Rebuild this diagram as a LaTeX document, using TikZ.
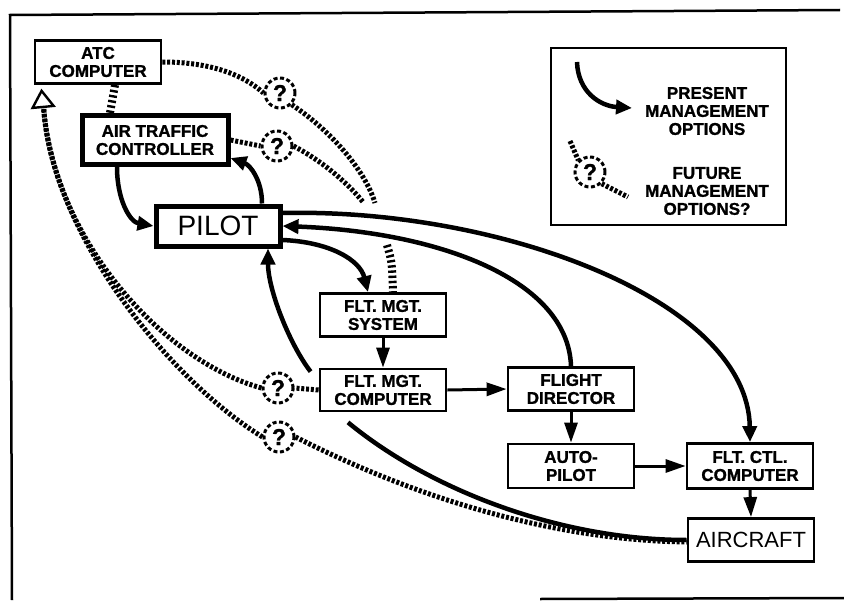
\documentclass[tikz,border=0pt]{standalone}
\usepackage{fontspec}
\setmainfont{Liberation Sans}
\newfontfamily\heavyfam{Liberation Sans Bold}[FakeBold=1.3]
\usetikzlibrary{arrows.meta}
\newcommand\bxfont{\heavyfam\fontsize{17}{18}\selectfont}
\newcommand\qmfont{\heavyfam\fontsize{23}{23}\selectfont}
\begin{document}
\begin{tikzpicture}[x=1pt,y=-1pt,
  box/.style={draw, line width=2.8pt, minimum width=126pt, minimum height=43pt, align=center, inner sep=0pt, font=\bxfont},
  tbox/.style={box, line width=5pt},
  conn/.style={line width=4.5pt, -{Triangle[length=16pt,width=14pt]}},
  sarrow/.style={line width=3pt, -{Triangle[length=20pt,width=13pt]}},
  plainline/.style={line width=4.5pt},
  hatched/.style={line width=5pt, dash pattern=on 3pt off 1.8pt},
  hatchlink/.style={line width=8pt, dash pattern=on 2.4pt off 2.8pt},
  opentri/.style={draw, fill=white, line width=2.4pt, line join=miter},
  qm/.style={circle, draw, line width=3pt, dash pattern=on 4pt off 2.5pt, minimum size=30pt, inner sep=0pt, font=\qmfont}]
\useasboundingbox (0,0) rectangle (844,602);
% frame
\draw[line width=2.5pt] (840,10) -- (10,15) -- (12,600);
\draw[line width=2.5pt] (540,599) -- (844,598);
% nodes
\node[box] (atcc) at (98,62) {ATC\\COMPUTER};
\node[tbox, minimum width=146pt, minimum height=49pt] (atc) at (155,140) {AIR TRAFFIC\\CONTROLLER};
\node[tbox, minimum width=124pt, minimum height=40pt, font=\fontsize{28}{28}\selectfont] (pilot) at (218,226) {PILOT};
\node[box] (fms) at (383,315) {FLT. MGT.\\SYSTEM};
\node[box, minimum height=42pt] (fmc) at (383,390) {FLT. MGT.\\COMPUTER};
\node[box] (fd) at (571,389) {FLIGHT\\DIRECTOR};
\node[box, minimum height=44pt] (ap) at (571,466) {AUTO-\\PILOT};
\node[box, minimum height=45pt] (fcc) at (750,466) {FLT. CTL.\\COMPUTER};
\node[box, font=\fontsize{22}{22}\selectfont] (ac) at (751,540) {AIRCRAFT};
% question marks
\node[qm] (q1) at (280,93) {?};
\node[qm] (q2) at (277,146) {?};
\node[qm] (q3) at (278,388) {?};
\node[qm] (q4) at (279,437) {?};
% free ends
\coordinate (e1) at (375,203);
\coordinate (e2) at (363,202);
\coordinate (h1) at (387,245);
\coordinate (atail) at ([xshift=10pt,yshift=-22pt]atcc.south west);
% future (hatched) links
\draw[hatched] (atcc.east) .. controls (205,62) and (240,72) .. (q1.west);
\draw[hatched] (q1.south east) .. controls (330,130) and (365,170) .. (e1);
\draw[hatched] (atc.east) -- (q2.west);
\draw[hatched] (q2.east) .. controls (320,160) and (345,180) .. (e2);
\draw[hatchlink] ([xshift=17pt]atcc.south) -- ([xshift=-45pt]atc.north);
\draw[hatchlink] (h1) .. controls (392,262) .. ([xshift=10pt]fms.north);
\draw[hatched] (fmc.west) -- (q3.east);
\draw[hatched] (q3.west) .. controls (160,360) and (52,235) .. (atail);
\draw[hatched] (q4.west) .. controls (170,380) and (52,235) .. (atail);
\draw[opentri] (atail) -- ++(10,-1) -- ([xshift=8pt,yshift=-6pt]atcc.south west) -- ++(-9,17) -- cycle;
\draw[hatched] (q4.east) .. controls (400,490) and (540,540) .. ([yshift=-2pt]ac.west);
% present (solid) links
\draw[plainline] ([xshift=-35pt,yshift=-10pt]fmc.south) .. controls (430,490) and (560,540) .. (ac.west);
\draw[conn] ([xshift=-38pt]atc.south) .. controls (117,200) and (130,222) .. (pilot.west);
\draw[conn] ([xshift=44pt]pilot.north) .. controls (262,180) and (250,165) .. ([yshift=9pt]atc.south east);
\draw[conn] ([yshift=-14pt]pilot.east) .. controls (330,242) and (360,260) .. ([xshift=-15pt]fms.north);
\draw[conn] ([xshift=-8pt,yshift=-4pt]fmc.north west) .. controls (290,345) and (268,290) .. ([xshift=50pt]pilot.south);
\draw[conn] (fd.north) .. controls (568,280) and (440,232) .. (pilot.east);
\draw[conn] ([yshift=13pt]pilot.east) .. controls (500,208) and (748,300) .. (fcc.north);
\draw[sarrow] (fms.south) -- (fmc.north);
\draw[sarrow] (fmc.east) -- (fd.west);
\draw[sarrow] (fd.south) -- (ap.north);
\draw[sarrow] (ap.east) -- (fcc.west);
\draw[sarrow] (fcc.south) -- (ac.north);
% legend
\draw[line width=2.8pt] (551,48) rectangle (786,225);
\coordinate (la) at (577,62);
\coordinate (lb) at (632,108);
\draw[conn] (la) .. controls (578,92) and (600,106) .. (lb);
\node[font=\bxfont, align=center] (lt1) at (707,111) {PRESENT\\MANAGEMENT\\OPTIONS};
\node[qm] (lq) at (590,172) {?};
\coordinate (lh1) at (570,141);
\coordinate (lh2) at (628,197);
\draw[hatched] (lh1) -- (lq.north west);
\draw[hatched] (lq.south east) -- (lh2);
\node[font=\bxfont, align=center] (lt2) at (707,191) {FUTURE\\MANAGEMENT\\OPTIONS?};
\end{tikzpicture}
\end{document}
